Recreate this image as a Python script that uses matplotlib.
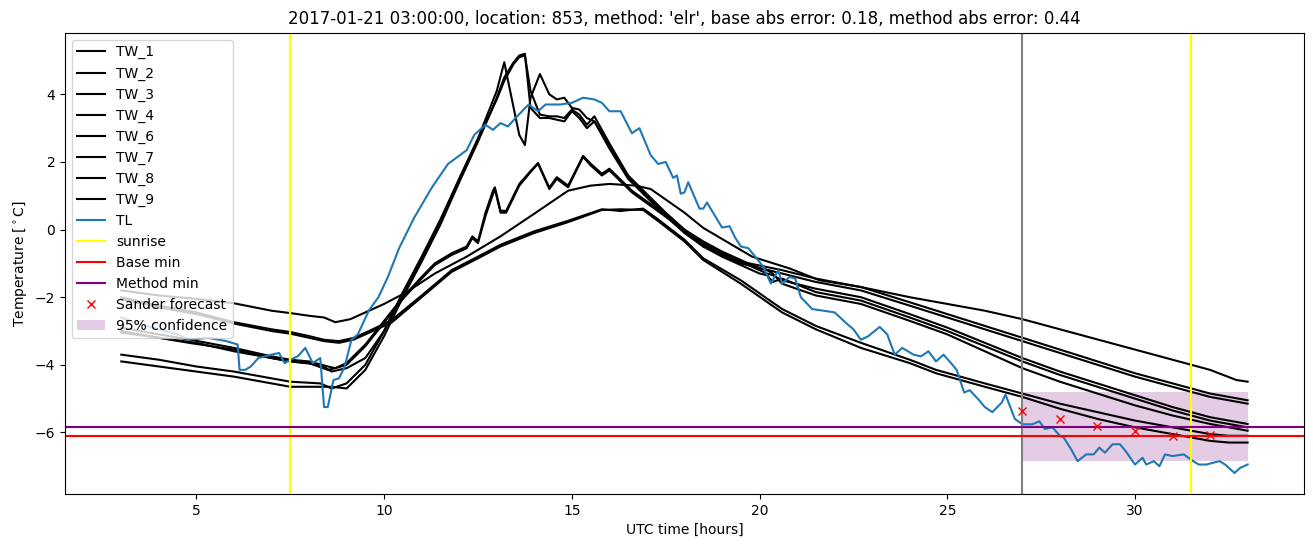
import matplotlib
matplotlib.use('Agg')
import matplotlib.pyplot as plt

# --- TW sensors (knot times in UTC hours, temperatures in degC) ---
tw1_t = [3, 4, 5, 6, 7, 7.5, 8.0, 8.4, 8.7, 9.1, 9.6, 10.0, 10.6, 11.35, 12.2, 13.1, 14.0, 14.9,
         15.5, 16.0, 16.7, 17.1, 18.0, 18.5, 19.8, 20.8, 21.6, 22.7, 24.0, 25.0, 26.0, 27.0, 28.0,
         29.0, 30.0, 31.0, 32.0, 32.7, 33.0]
tw1_y = [-1.8, -1.95, -2.05, -2.18, -2.4, -2.47, -2.55, -2.6, -2.74, -2.65, -2.4, -2.2, -1.85, -1.3,
         -0.8, -0.2, 0.47, 1.15, 1.3, 1.35, 1.3, 1.2, 0.5, 0.05, -0.8, -1.15, -1.5, -1.7, -2.0, -2.2,
         -2.4, -2.65, -2.95, -3.25, -3.55, -3.85, -4.15, -4.45, -4.5]

tw23_t = [3, 4, 5, 6, 7, 7.5, 8.0, 8.4, 8.8, 9.2, 9.6, 10.2, 11.0, 11.8, 12.5, 13.1, 14.0, 14.9,
          15.8, 16.3, 16.9, 17.3, 18.0, 18.5, 19.5, 20.6, 21.5, 22.7, 24.0, 24.7, 26.0, 27.0, 28,
          29, 30, 31, 32, 32.5, 33]
tw2_y = [-2.0, -2.25, -2.45, -2.74, -2.95, -3.03, -3.15, -3.26, -3.3, -3.2, -3.0, -2.68, -1.95,
         -1.2, -0.8, -0.45, -0.05, 0.26, 0.6, 0.55, 0.62, 0.3, -0.3, -0.85, -1.5, -2.35, -2.85,
         -3.35, -3.85, -4.15, -4.55, -4.85, -5.15, -5.4, -5.65, -5.85, -6.05, -6.1, -6.1]
tw3_y = [-2.05, -2.3, -2.5, -2.78, -3.0, -3.08, -3.2, -3.3, -3.35, -3.25, -3.05, -2.75, -2.0,
         -1.25, -0.85, -0.5, -0.1, 0.22, 0.58, 0.6, 0.58, 0.25, -0.35, -0.9, -1.6, -2.45, -2.95,
         -3.5, -3.95, -4.25, -4.65, -4.95, -5.3, -5.6, -5.85, -6.05, -6.25, -6.3, -6.3]

tw46_t = [3, 4, 4.8, 6, 7, 7.5, 8.0, 8.5, 8.7, 9.0, 9.5, 10.0, 10.5, 11.0, 11.35, 11.8, 12.2,
          12.35, 12.5, 12.7, 12.9, 12.95, 13.1, 13.25, 13.6, 13.9, 14.1, 14.4, 14.6, 14.9, 15.3,
          15.5, 15.8, 16.0, 16.6, 17.6, 18.5, 19.5, 20.6, 21.5, 22.7, 24, 25, 26, 27, 28, 29, 30,
          31, 32, 33]
tw4_y = [-2.9, -3.1, -3.25, -3.5, -3.75, -3.85, -3.9, -4.05, -4.1, -3.95, -3.4, -2.7, -2.0, -1.4,
         -1.0, -0.7, -0.5, -0.2, -0.35, 0.5, 1.15, 1.25, 0.56, 0.55, 1.35, 1.73, 1.97, 1.24, 1.55,
         1.3, 2.18, 1.95, 1.65, 1.8, 1.15, 0.35, -0.45, -0.95, -1.2, -1.45, -1.7, -2.15, -2.5,
         -2.85, -3.2, -3.55, -3.9, -4.25, -4.55, -4.85, -5.05]
tw6_y = [-3.0, -3.2, -3.35, -3.55, -3.8, -3.9, -3.95, -4.15, -4.1, -4.0, -3.45, -2.75, -2.05,
         -1.45, -1.05, -0.75, -0.55, -0.25, -0.4, 0.4, 1.05, 1.2, 0.5, 0.5, 1.3, 1.7, 1.95, 1.2,
         1.5, 1.25, 2.15, 1.9, 1.6, 1.75, 1.1, 0.3, -0.5, -1.0, -1.3, -1.55, -1.8, -2.25, -2.6,
         -2.95, -3.3, -3.65, -4.0, -4.35, -4.65, -4.95, -5.15]

tw789_t = [3, 4, 5, 6, 7, 7.5, 8.3, 8.6, 9.0, 9.5, 10.0, 10.5, 11.0, 11.5, 12.0, 12.5, 13.0, 13.2,
           13.45, 13.6, 13.75, 13.9, 14.15, 14.4, 14.6, 14.8, 15.0, 15.2, 15.4, 15.6, 16.0, 16.5,
           17.0, 17.5, 18.0, 18.5, 19.0, 19.5, 20.0, 20.2, 20.35, 20.6, 21.5, 22.7, 24, 25, 26,
           27, 28, 29, 30, 31, 32, 33]
tw7_y = [-3.7, -3.85, -4.05, -4.2, -4.4, -4.5, -4.55, -4.7, -4.55, -4.0, -3.0, -1.9, -0.85, 0.25,
         1.5, 2.7, 4.1, 4.95, 3.6, 2.8, 2.5, 3.9, 4.6, 4.0, 3.85, 3.9, 3.6, 3.55, 3.3, 3.2, 2.5,
         1.55, 1.0, 0.45, -0.05, -0.4, -0.7, -0.95, -1.2, -1.3, -1.35, -1.5, -1.75, -2.0, -2.5,
         -2.9, -3.35, -3.8, -4.2, -4.55, -4.9, -5.25, -5.55, -5.75]
tw8_y = [-3.9, -4.05, -4.2, -4.35, -4.55, -4.65, -4.65, -4.65, -4.7, -4.15, -3.15, -2.0, -0.95,
         0.15, 1.4, 2.6, 3.9, 4.5, 4.95, 5.15, 5.2, 3.6, 3.3, 3.3, 3.25, 3.2, 3.5, 3.3, 3.0, 3.2,
         2.4, 1.5, 0.95, 0.4, -0.1, -0.5, -0.8, -1.05, -1.3, -1.35, -1.55, -1.45, -1.85, -2.1,
         -2.6, -3.0, -3.45, -3.9, -4.3, -4.65, -5.0, -5.35, -5.65, -5.85]
tw9_y = [-3.05, -3.2, -3.35, -3.6, -3.8, -3.9, -4.0, -4.2, -4.1, -3.8, -3.0, -1.85, -0.8, 0.3,
         1.5, 2.65, 3.85, 4.4, 4.9, 5.1, 5.15, 4.1, 3.4, 3.35, 3.35, 3.3, 3.55, 3.4, 3.1, 3.35,
         2.55, 1.6, 1.05, 0.5, 0.0, -0.35, -0.65, -0.9, -1.15, -1.2, -1.3, -1.6, -1.95, -2.2,
         -2.7, -3.1, -3.6, -4.1, -4.5, -4.85, -5.2, -5.5, -5.75, -5.95]

# --- TL (air temperature) ---
tl_t = [3.0, 3.5, 4.0, 4.5, 4.8, 5.3, 5.8, 6.1, 6.15, 6.3, 6.45, 6.65, 7.0, 7.2, 7.35, 7.5, 7.7,
        7.9, 8.1, 8.3, 8.4, 8.5, 8.65, 8.8, 8.95, 9.13, 9.3, 9.6, 9.85, 10.1, 10.4, 10.8, 11.27,
        11.7, 12.2, 12.4, 12.7, 12.9, 13.1, 13.3, 13.5, 13.85, 14.1, 14.3, 14.7, 15.0, 15.3, 15.6,
        15.8, 16.0, 16.3, 16.6, 16.8, 17.1, 17.3, 17.5, 17.7, 17.8, 17.9, 18.0, 18.1, 18.4, 18.5,
        18.6, 19.0, 19.2, 19.35, 19.5, 19.7, 19.9, 20.1, 20.3, 20.5, 20.6, 20.8, 20.95, 21.1,
        21.4, 21.7, 22.0, 22.3, 22.5, 22.7, 22.9, 23.2, 23.4, 23.6, 23.8, 24.1, 24.3, 24.5, 24.7,
        24.9, 25.1, 25.25, 25.45, 25.6, 25.85, 26.0, 26.2, 26.45, 26.55, 26.8, 27.0, 27.27,
        27.45, 27.6, 27.8, 28.0, 28.1, 28.3, 28.47, 28.7, 28.9, 29.05, 29.2, 29.4, 29.6, 29.75,
        30.0, 30.2, 30.3, 30.5, 30.65, 30.8, 31.0, 31.3, 31.55, 31.7, 31.9, 32.25, 32.4, 32.55,
        32.65, 32.8, 33.0]
tl_y = [-2.6, -2.8, -2.95, -3.1, -3.26, -3.2, -3.3, -3.4, -4.15, -4.15, -4.05, -3.8, -3.7, -3.65,
        -3.95, -3.85, -3.75, -3.5, -3.95, -3.8, -5.25, -5.25, -4.45, -4.4, -4.05, -3.26, -3.1,
        -2.38, -2.0, -1.4, -0.55, 0.35, 1.24, 1.94, 2.35, 2.8, 3.1, 2.95, 3.15, 3.05, 3.3, 3.7,
        3.5, 3.7, 3.7, 3.75, 3.9, 3.85, 3.75, 3.5, 3.5, 2.85, 3.0, 2.2, 1.94, 2.0, 1.53, 1.6, 1.06,
        1.1, 1.4, 0.62, 0.62, 0.8, 0.06, 0.1, -0.24, -0.5, -0.55, -0.82, -1.1, -1.6, -1.2, -1.6,
        -1.4, -1.45, -2.0, -2.35, -2.4, -2.45, -2.76, -2.95, -3.26, -3.15, -2.88, -3.1, -3.7,
        -3.5, -3.7, -3.75, -3.6, -3.9, -3.7, -3.95, -4.15, -4.82, -4.75, -5.05, -5.25, -5.4,
        -5.12, -4.88, -5.6, -5.76, -5.76, -5.67, -5.9, -5.85, -6.1, -6.15, -6.5, -6.85, -6.65,
        -6.65, -6.45, -6.6, -6.35, -6.35, -6.55, -6.95, -6.75, -6.95, -6.85, -7.0, -6.65, -6.7,
        -6.65, -6.85, -6.95, -6.95, -6.85, -6.95, -7.1, -7.2, -7.05, -6.95]

# --- forecast / reference markers ---
sunrise_hours = [7.48, 31.5]
forecast_start = 27.0
base_min = -6.1
method_min = -5.84
sander_t = [27, 28, 29, 30, 31, 32]
sander_y = [-5.38, -5.6, -5.82, -5.97, -6.12, -6.09]
conf_t = [27, 33]
conf_low = [-6.85, -6.85]
conf_high = [-4.8, -4.8]

tw_series = [
    ('TW_1', tw1_t, tw1_y),
    ('TW_2', tw23_t, tw2_y),
    ('TW_3', tw23_t, tw3_y),
    ('TW_4', tw46_t, tw4_y),
    ('TW_6', tw46_t, tw6_y),
    ('TW_7', tw789_t, tw7_y),
    ('TW_8', tw789_t, tw8_y),
    ('TW_9', tw789_t, tw9_y),
]

fig = plt.figure(figsize=(13.13, 5.47), dpi=100)
ax = fig.add_axes([0.0495, 0.097, 0.9436, 0.843])

for name, t, y in tw_series:
    ax.plot(t, y, color='black', label=name)
ax.plot(tl_t, tl_y, color='C0', label='TL')

ax.axvline(sunrise_hours[0], color='yellow', label='sunrise')
ax.axvline(sunrise_hours[1], color='yellow')
ax.axvline(forecast_start, color='gray')
ax.axhline(base_min, color='red', label='Base min')
ax.axhline(method_min, color='purple', label='Method min')
ax.plot(sander_t, sander_y, 'x', color='red', label='Sander forecast')
ax.fill_between(conf_t, conf_low, conf_high, color='purple', alpha=0.2, linewidth=0,
                label='95% confidence')

ax.set_title("2017-01-21 03:00:00, location: 853, method: 'elr', "
             "base abs error: 0.18, method abs error: 0.44")
ax.set_xlabel('UTC time [hours]')
ax.set_ylabel(r'Temperature [$^\circ$C]')
ax.legend(loc='upper left')

fig.savefig('out.png', dpi=100)
